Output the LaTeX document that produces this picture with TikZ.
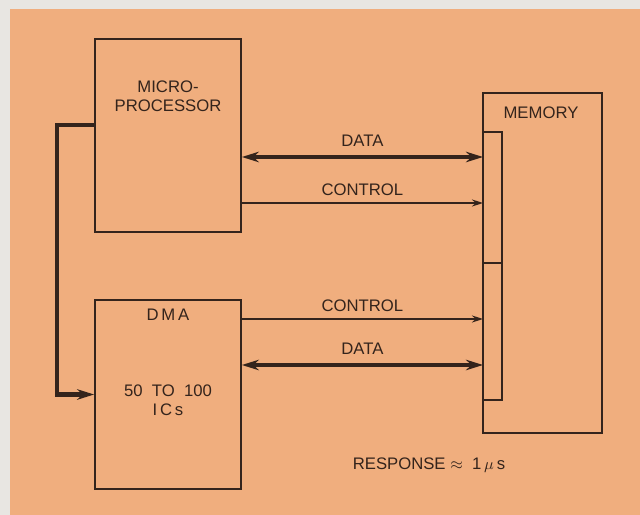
\documentclass[tikz,border=0pt]{standalone}
\usepackage{fontspec}
\setmainfont{Liberation Sans}
\usetikzlibrary{positioning,arrows.meta}
\definecolor{paper}{RGB}{232,230,226}
\definecolor{peach}{RGB}{240,174,126}
\definecolor{ink}{RGB}{52,36,28}

\tikzset{
  unit/.style={draw=ink, line width=1pt, minimum width=2.92cm},
  lbl/.style={font=\fontsize{9.5}{11}\selectfont, text=ink, inner sep=1pt, align=center},
  databus/.style={draw=ink, line width=2.4pt, {Stealth[length=3.4mm,width=2.1mm]}-{Stealth[length=3.4mm,width=2.1mm]}},
  ctrlline/.style={draw=ink, line width=0.9pt, -{Stealth[length=2.2mm,width=1.4mm]}},
}

\begin{document}
\begin{tikzpicture}[x=0.2mm,y=-0.2mm]
% paper edge first, then the coloured sheet over it
\fill[paper] (0,0) rectangle (640,515);
\fill[peach] (10,9) rectangle (640,515);
\useasboundingbox (0,0) rectangle (640,515);
% the three units
\node[unit, minimum height=3.86cm] (mp)  at (168,135.5) {};
\node[unit, minimum height=3.78cm] (dma) at (168,394.5) {};
\node[draw=ink, line width=1pt, minimum width=2.38cm, minimum height=6.8cm] (mem) at (542.5,263) {};
% port strip on the memory side, upper and lower half
\node[draw=ink, line width=1pt, minimum width=0.38cm, minimum height=2.62cm] (portA) at (492.5,197.5) {};
\node[draw=ink, line width=1pt, minimum width=0.38cm, minimum height=2.74cm] (portB) at (492.5,331.5) {};
% texts inside the boxes
\node[lbl] (mptxt)  at (168,96)  {MICRO-\\PROCESSOR};
\node[lbl] (dmatxt) at (168,315) {D\,M\,A};
\node[lbl] (ictxt)  at (168,400) {50\ \ TO\ \ 100\\I\,C\,s};
\node[lbl] (memtxt) at (541,113) {MEMORY};
\node[lbl] (resp)   at (429,465) {RESPONSE $\approx$\ \ 1\,$\mu$\,s};
% levels where the buses meet the port strip
\coordinate (d1) at (483,157);
\coordinate (c1) at (483,203);
\coordinate (c2) at (483,319);
\coordinate (d2) at (483,365);
\draw[databus] (d1 -| mp.east) -- (d1) node[lbl, midway, above=4pt] (d1txt) {DATA};
\draw[ctrlline] (c1 -| mp.east) -- (c1) node[lbl, midway, above=3pt] (c1txt) {CONTROL};
\draw[ctrlline] (c2 -| dma.east) -- (c2) node[lbl, midway, above=3pt] (c2txt) {CONTROL};
\draw[databus] (d2 -| dma.east) -- (d2) node[lbl, midway, above=4pt] (d2txt) {DATA};
% request line from the processor down to the DMA unit
\draw[draw=ink, line width=2.4pt, -{Stealth[length=3.4mm,width=2.1mm]}]
  ([yshift=2.1mm]mp.west) -- ++(-37,0) |- (dma.west);
\end{tikzpicture}
\end{document}
